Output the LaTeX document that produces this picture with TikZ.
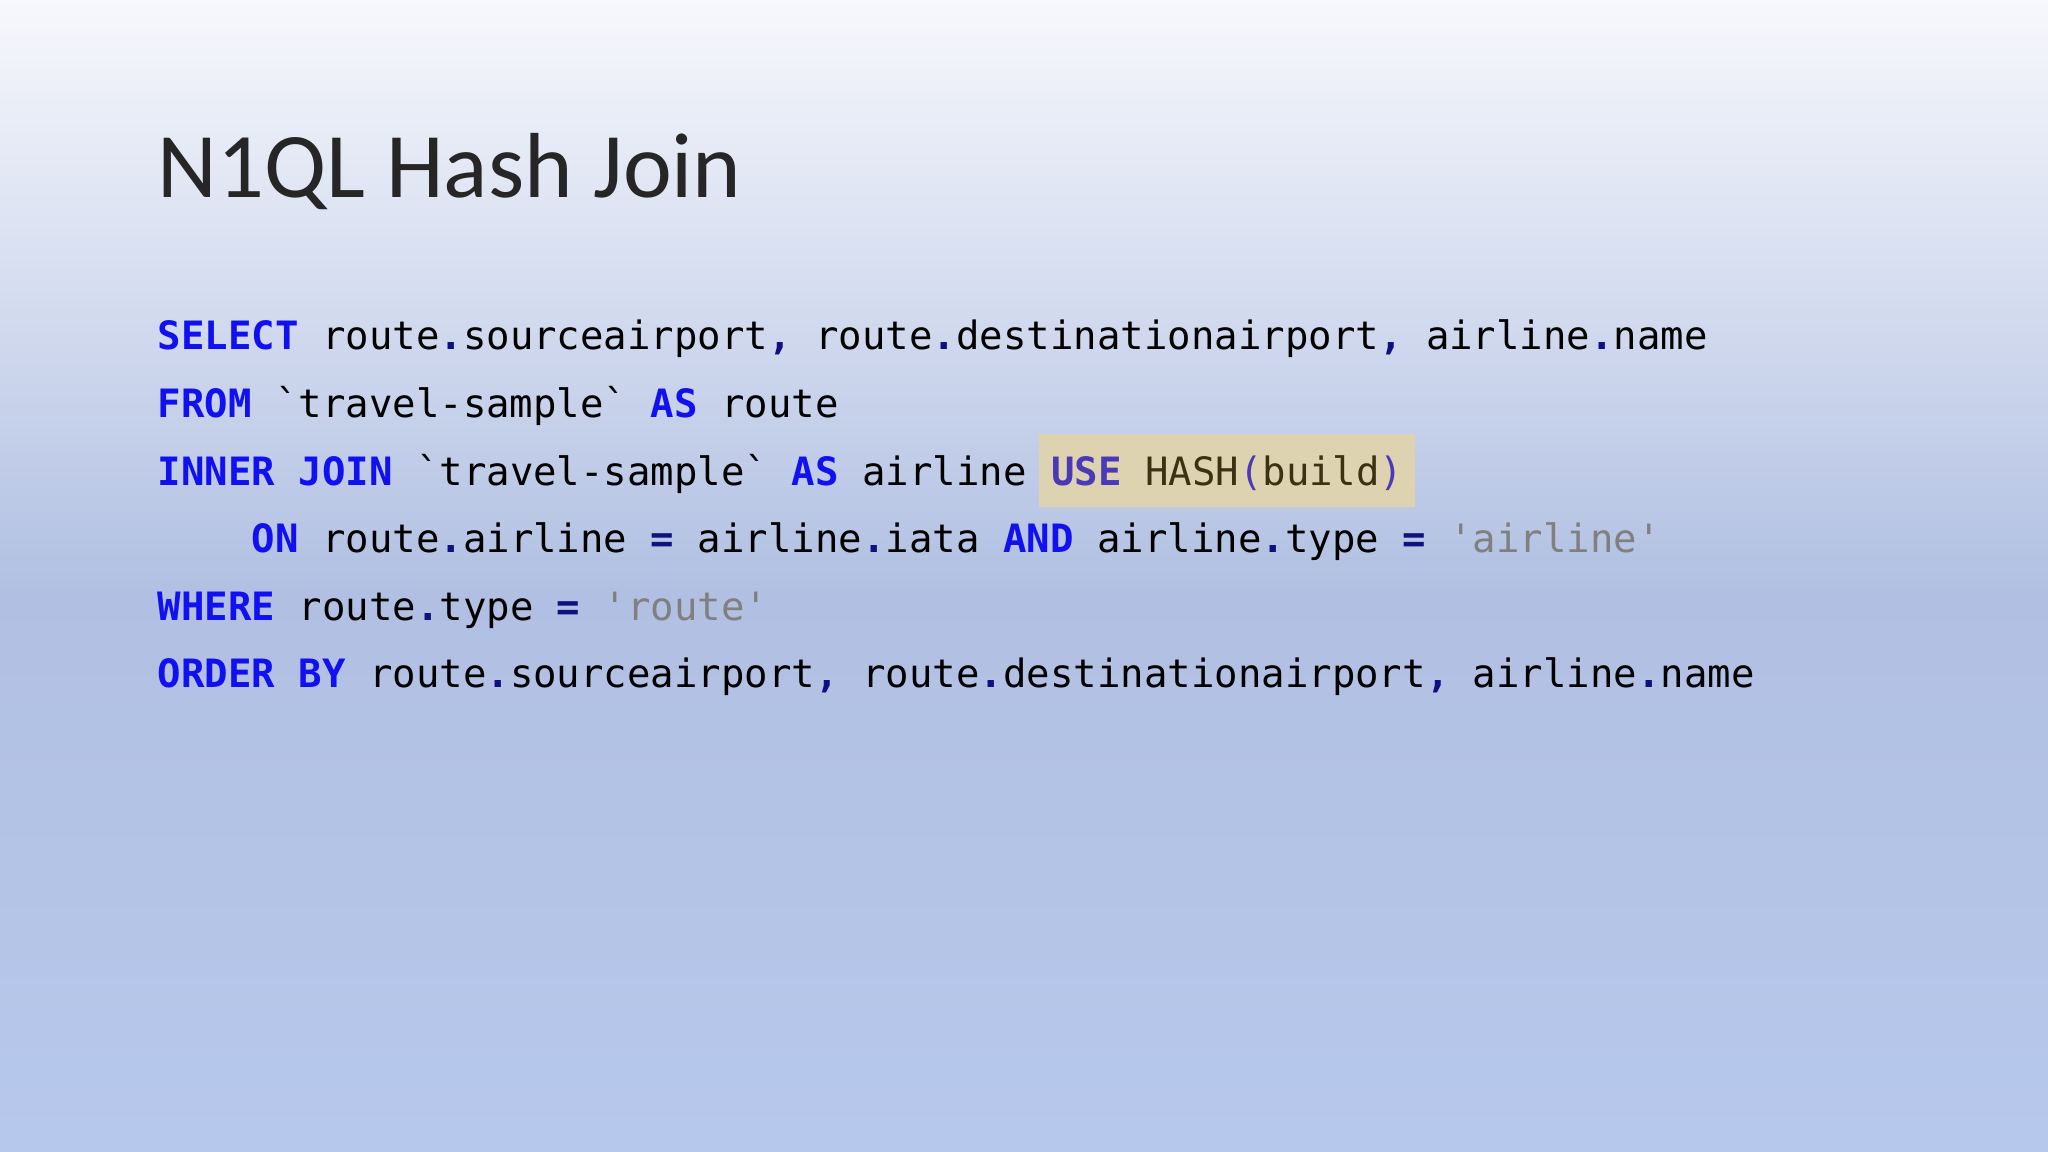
\documentclass[tikz,border=0pt]{standalone}
\usepackage{fontspec}
\setmainfont{Carlito}
\setmonofont{DejaVu Sans Mono}
\usetikzlibrary{positioning}
\definecolor{kwblue}{HTML}{1010F0}
\definecolor{pudark}{HTML}{101080}
\definecolor{strgray}{HTML}{808080}
\definecolor{hintfill}{HTML}{DDD3B0}
\definecolor{hintkw}{HTML}{4A3AB8}
\definecolor{hinttxt}{HTML}{3A3210}
\definecolor{bgtop}{HTML}{F7F8FC}
\definecolor{bgmid}{HTML}{B1C0E2}
\definecolor{bgbot}{HTML}{B6C8EC}
\newcommand{\kw}[1]{\textcolor{kwblue}{\textbf{#1}}}
\newcommand{\pu}[1]{\textcolor{pudark}{\textbf{#1}}}
\newcommand{\str}[1]{\textcolor{strgray}{#1}}
\begin{document}
\begin{tikzpicture}[code line/.style={anchor=base west,inner sep=0pt,
                    font=\fontsize{11.1pt}{13pt}\ttfamily}]
\useasboundingbox (0,0) rectangle (20.48,11.52);
\shade[top color=bgtop,bottom color=bgmid] (0,11.52) rectangle (20.48,5.6);
\shade[top color=bgmid,bottom color=bgbot] (0,5.6) rectangle (20.48,0);

\node[anchor=base west,inner sep=0pt,font=\fontsize{26.3pt}{30pt}\selectfont,text=black!85] (title) at (1.57,9.54) {N1QL Hash Join};

\node[code line] (l1) at (1.57,8.02) {\kw{SELECT} route\pu{.}sourceairport\pu{,} route\pu{.}destinationairport\pu{,} airline\pu{.}name};
\node[code line] (l2) at (1.57,7.34) {\kw{FROM} `travel-sample` \kw{AS} route};
\node[code line] (l3) at (1.57,6.66) {\kw{INNER} \kw{JOIN} `travel-sample` \kw{AS} airline};
\node[code line,fill=hintfill,inner xsep=0.12cm,text height=0.52cm,text depth=0.21cm,
      xshift=0.11cm] (hint) at (l3.base east) {\textcolor{hintkw}{\textbf{USE}} \textcolor{hinttxt}{HASH}\textcolor{hintkw}{(}\textcolor{hinttxt}{build}\textcolor{hintkw}{)}};
\node[code line] (l4) at (1.57,5.99) {\phantom{XXXX}\kw{ON} route\pu{.}airline \pu{=} airline\pu{.}iata \kw{AND} airline\pu{.}type \pu{=} \str{'airline'}};
\node[code line] (l5) at (1.57,5.31) {\kw{WHERE} route\pu{.}type \pu{=} \str{'route'}};
\node[code line] (l6) at (1.57,4.64) {\kw{ORDER} \kw{BY} route\pu{.}sourceairport\pu{,} route\pu{.}destinationairport\pu{,} airline\pu{.}name};
\end{tikzpicture}
\end{document}
